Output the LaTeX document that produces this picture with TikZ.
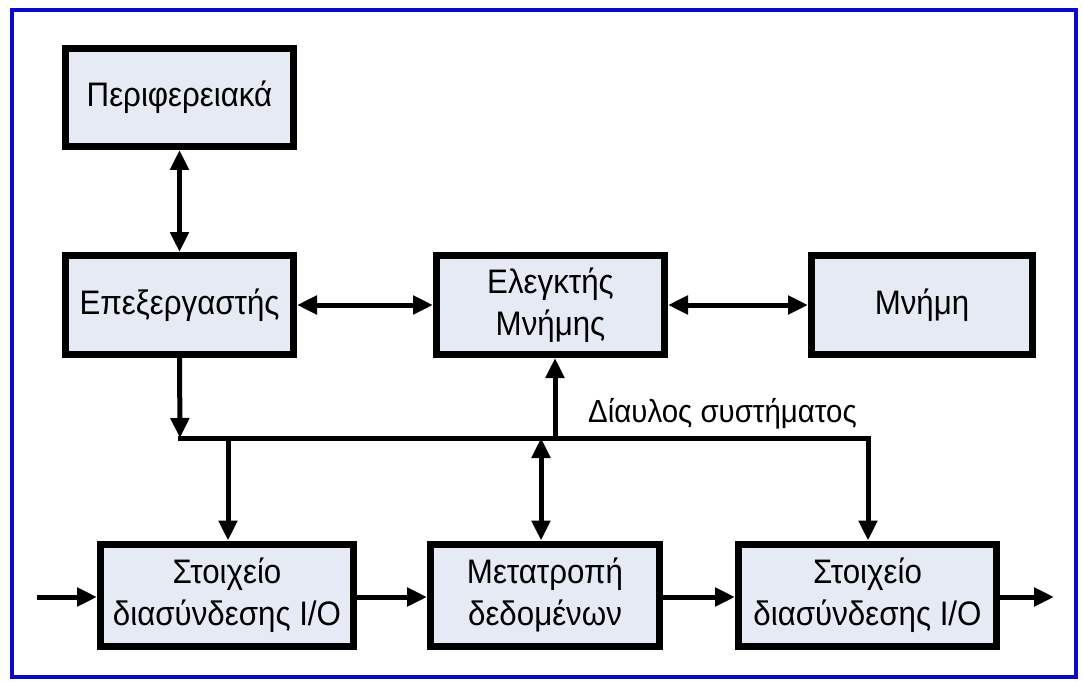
\documentclass[tikz,border=0pt]{standalone}
\usepackage{fontspec}
\setmainfont{Liberation Sans}[FakeStretch=0.92]
\usetikzlibrary{arrows.meta}
\definecolor{boxfill}{HTML}{E6EAF5}
\definecolor{frameblue}{HTML}{0A0AC8}
\begin{document}
\begin{tikzpicture}[x=1pt,y=-1pt,
  blk/.style={draw=black,line width=7pt,fill=boxfill,rectangle,
    align=center,inner sep=0pt,font=\fontsize{34}{42}\selectfont},
  tip/.tip={Triangle[length=20pt,width=18pt]},
  conn/.style={line width=5pt,-tip},
  biconn/.style={line width=5pt,tip-tip},
  wire/.style={line width=5pt}]
% page and outer frame
\fill[white] (0,0) rectangle (1082,682);
\draw[frameblue,line width=4pt] (12,10) rectangle (1076,677);
% blocks
\node[blk,minimum width=228pt,minimum height=98pt] (per)  at (179.5,97.5) {Περιφερειακά};
\node[blk,minimum width=228pt,minimum height=99pt] (cpu)  at (179.5,305) {Επεξεργαστής};
\node[blk,minimum width=228pt,minimum height=99pt] (mc)   at (550.5,305) {Ελεγκτής\\Μνήμης};
\node[blk,minimum width=221pt,minimum height=99pt] (mem)  at (922,305) {Μνήμη};
\node[blk,minimum width=253pt,minimum height=102pt] (io1)  at (227,595) {Στοιχείο\\διασύνδεσης I/O};
\node[blk,minimum width=229pt,minimum height=102pt] (conv) at (545,595) {Μετατροπή\\δεδομένων};
\node[blk,minimum width=258pt,minimum height=102pt] (io2)  at (867.5,595) {Στοιχείο\\διασύνδεσης I/O};
% system bus
\coordinate (busL) at (180,438);
\coordinate (busR) at (868,438);
\coordinate (tapA) at (228,438);
\coordinate (tapB) at (541,438);
\coordinate (tapC) at (555,438);
\coordinate (inL)  at (37,597);
\coordinate (outR) at (1054,597);
\draw[wire,line cap=rect] (busL) -- (busR);
\draw[conn] (busR) -- (busR|-io2.north);
\draw[conn] (cpu.south) -- (busL);
\draw[conn] (tapA) -- (tapA|-io1.north);
\draw[biconn] (tapB) -- (tapB|-conv.north);
\draw[conn] (tapC) -- (tapC|-mc.south);
\node[anchor=base west,inner sep=0pt,font=\fontsize{32}{36}\selectfont] (buslbl) at (588,422) {Δίαυλος συστήματος};
% upper links
\draw[biconn] (per.south) -- (cpu.north);
\draw[biconn] (cpu.east) -- (mc.west);
\draw[biconn] (mc.east) -- (mem.west);
% data path
\draw[conn] (inL) -- (io1.west|-inL);
\draw[conn] (io1.east|-inL) -- (conv.west|-inL);
\draw[conn] (conv.east|-inL) -- (io2.west|-inL);
\draw[conn] (io2.east|-outR) -- (outR);
\end{tikzpicture}
\end{document}
